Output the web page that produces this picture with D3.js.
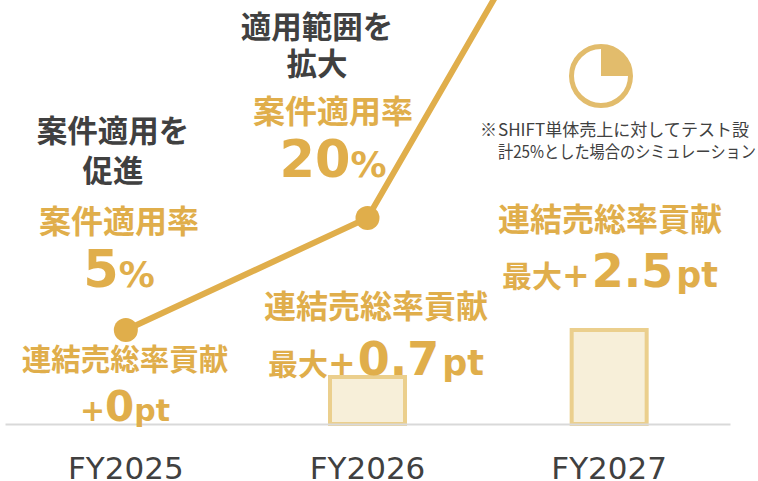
<!DOCTYPE html>
<html>
<head>
<meta charset="utf-8">
<script src="https://cdn.jsdelivr.net/npm/d3@7"></script>
<style>
html, body { margin: 0; padding: 0; background: #fff; }
svg { display: block; }
text { font-family: "DejaVu Sans", "Noto Sans CJK JP", sans-serif; }
</style>
</head>
<body>
<svg id="chart" width="758" height="481"></svg>
<script>
var years = ["FY2025", "FY2026", "FY2027"];
var applyRate = [5, 20, 76]; // 3rd point runs off the top, read from the slope
var contribution = [0, 0.7, 2.5];
var pieShare = [25, 75];

var gold = "#e0ae4b", dark = "#404040", pale = "#e2bc6c";
var cjk = "'Noto Sans CJK JP'", latin = "'DejaVu Sans'";

var svg = d3.select("#chart");

var x = d3.scaleBand().domain(years).range([5, 730]);
var cx = function(d) { return x(d) + x.bandwidth() / 2; };
var yRate = d3.scaleLinear().domain([5, 20]).range([330, 218]);
// the bars in the picture are not to scale, so the scale has a knee at each one
var yBar = d3.scaleLinear().domain([0, 0.7, 2.5]).range([424, 377, 330]);

// bars
var barWidth = 75;
svg.selectAll("rect.bar")
    .data(years.filter(function(d, i) { return contribution[i] > 0; }))
    .enter().append("rect")
    .attr("class", "bar")
    .attr("x", function(d) { return cx(d) - barWidth / 2; })
    .attr("y", function(d) { return yBar(contribution[years.indexOf(d)]); })
    .attr("width", barWidth)
    .attr("height", function(d) { return yBar(0) - yBar(contribution[years.indexOf(d)]); })
    .attr("fill", "#f7efd9")
    .attr("stroke", "#ebcf8d")
    .attr("stroke-width", 4);

// axis
var axis = svg.append("g")
    .attr("transform", "translate(0,424)")
    .call(d3.axisBottom(x).tickSize(0).tickPadding(33));
axis.select(".domain").attr("stroke", "#d9d9d9").attr("stroke-width", 2);
axis.selectAll("text")
    .attr("fill", dark)
    .style("font-family", latin)
    .style("font-size", "31px");

// line
var line = d3.line()
    .x(function(d, i) { return cx(years[i]); })
    .y(function(d) { return yRate(d); });
svg.append("path")
    .datum(applyRate)
    .attr("d", line)
    .attr("fill", "none")
    .attr("stroke", gold)
    .attr("stroke-width", 6);
svg.selectAll("circle.pt")
    .data(applyRate.slice(0, 2))
    .enter().append("circle")
    .attr("class", "pt")
    .attr("cx", function(d, i) { return cx(years[i]); })
    .attr("cy", function(d) { return yRate(d); })
    .attr("r", 12)
    .attr("fill", gold);

function label(px, py, parts, fill) {
    var t = svg.append("text")
        .attr("x", px)
        .attr("y", py)
        .attr("text-anchor", "middle")
        .attr("fill", fill)
        .attr("font-weight", "bold");
    parts.forEach(function(p) {
        t.append("tspan")
            .style("font-size", p[1] + "px")
            .style("font-family", p[2] || cjk)
            .attr("dx", p[3] || 0)
            .text(p[0]);
    });
}

// headings
label(317, 38, [["適用範囲を", 30.5]], dark);
label(317, 75, [["拡大", 30.5]], dark);
label(113, 142, [["案件適用を", 30.5]], dark);
label(113, 182, [["促進", 30.5]], dark);

// rate labels
label(333, 123, [["案件適用率", 32]], gold);
label(333, 177, [[applyRate[1], 51, latin], ["%", 36, latin]], gold);
label(119, 233, [["案件適用率", 32]], gold);
label(119, 287, [[applyRate[0], 51, latin], ["%", 36, latin]], gold);

// contribution labels
label(125, 370, [["連結売総率貢献", 29.5]], gold);
label(125, 421, [["+", 30, latin], [contribution[0], 42, latin], ["pt", 30, latin]], gold);
label(376, 318, [["連結売総率貢献", 32]], gold);
label(376, 375, [["最大", 30], ["+", 33, latin], [contribution[1], 46, latin, 2], ["pt", 35, latin, 3]], gold);
label(610, 231, [["連結売総率貢献", 32]], gold);
label(610, 287, [["最大", 30], ["+", 33, latin], [contribution[2], 46, latin, 2], ["pt", 35, latin, 3]], gold);

// quarter pie
var pieG = svg.append("g").attr("transform", "translate(601,76)");
pieG.append("circle").attr("r", 29.5).attr("fill", "#fff").attr("stroke", pale).attr("stroke-width", 5);
pieG.selectAll("path")
    .data(d3.pie().sort(null)(pieShare).slice(0, 1))
    .enter().append("path")
    .attr("d", d3.arc().innerRadius(0).outerRadius(30))
    .attr("fill", pale);

// note
var note = svg.append("text").attr("fill", dark).style("font-family", cjk).style("font-size", "17px");
note.append("tspan").attr("x", 480).attr("y", 136).text("※");
svg.append("text").attr("fill", dark).style("font-family", cjk).style("font-size", "17px")
    .attr("x", 498).attr("y", 136)
    .attr("textLength", 251).attr("lengthAdjust", "spacingAndGlyphs")
    .text("SHIFT単体売上に対してテスト設");
svg.append("text").attr("fill", dark).style("font-family", cjk).style("font-size", "17px")
    .attr("x", 498).attr("y", 158)
    .attr("textLength", 258).attr("lengthAdjust", "spacingAndGlyphs")
    .text("計25%とした場合のシミュレーション");
</script>
</body>
</html>
